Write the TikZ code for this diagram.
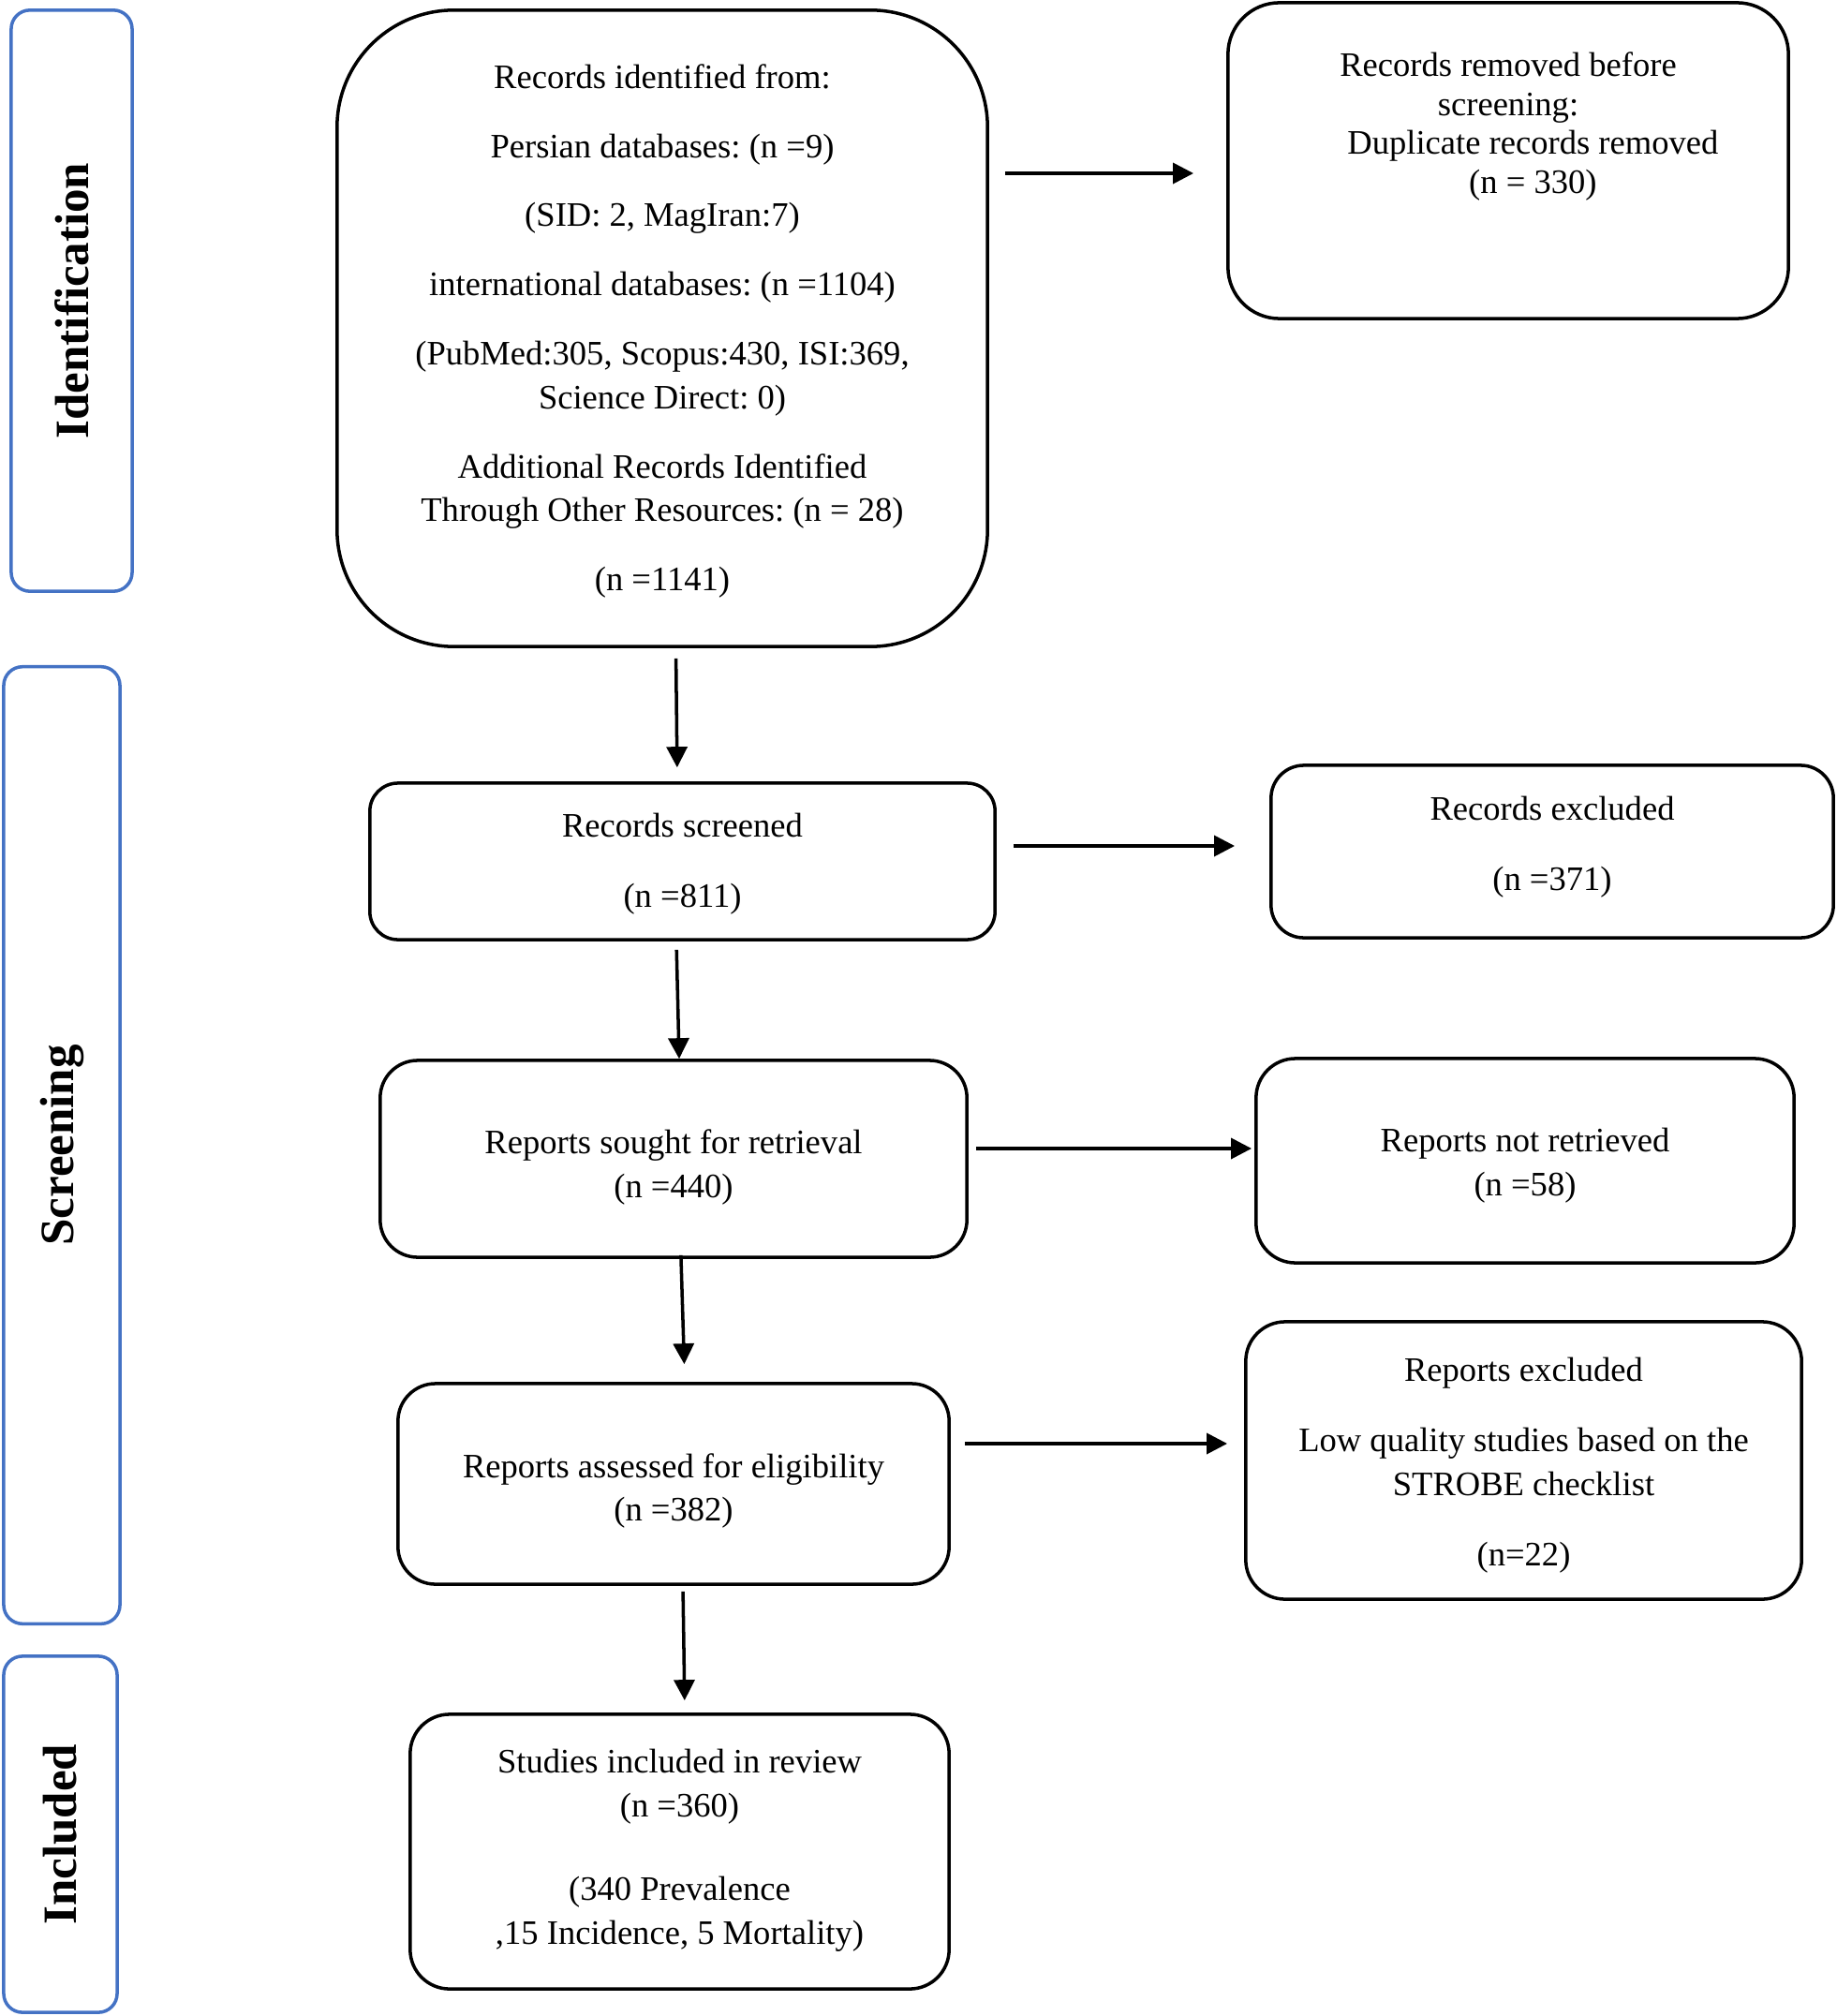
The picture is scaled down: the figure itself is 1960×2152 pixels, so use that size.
\documentclass[tikz,border=0pt]{standalone}
\usepackage{fontspec}
\setmainfont{Liberation Serif}
\usetikzlibrary{arrows.meta,positioning}
\definecolor{phaseblue}{RGB}{68,114,196}
\frenchspacing
\tikzset{
  stage/.style={draw, line width=1pt, rounded corners=0.4cm, inner sep=0pt},
  stagetext/.style={align=center, inner sep=0pt, font=\fontsize{10.4}{13.3}\selectfont},
  phase/.style={draw=phaseblue, line width=1pt, rounded corners=0.2cm, rotate=90, inner sep=0pt,
    font=\fontsize{14.5}{16}\selectfont\bfseries},
  flow/.style={line width=1pt, -{Triangle[length=0.22cm,width=0.22cm]}}
}
\begin{document}
\begin{tikzpicture}[x=0.01cm,y=-0.01cm]
  \useasboundingbox (0,0) rectangle (1960,2152);
  % phases on the left
  \node[phase, minimum width=6.2cm, minimum height=1.29cm] (idphase) at (76.5,321) {Identification};
  \node[phase, minimum width=10.21cm, minimum height=1.24cm] (scphase) at (66,1222.5) {Screening};
  \node[phase, minimum width=3.8cm, minimum height=1.21cm] (inphase) at (64.5,1958) {Included};
  % main column
  \node[stage, minimum width=6.94cm, minimum height=6.79cm, rounded corners=1.25cm] (ident) at (707,350.5) {};
  \node[stagetext] (identtext) at (707,353.5)
    {Records identified from:\\[7.7pt]
     Persian databases: (n =9)\\[7.7pt]
     (SID: 2, MagIran:7)\\[7.7pt]
     international databases: (n =1104)\\[7.7pt]
     (PubMed:305, Scopus:430, ISI:369,\\
     Science Direct: 0)\\[7.7pt]
     Additional Records Identified\\
     Through Other Resources: (n = 28)\\[7.7pt]
     (n =1141)};
  \node[stage, minimum width=6.67cm, minimum height=1.67cm, rounded corners=0.3cm] (screened) at (728.5,919.5) {};
  \node[stagetext] (screenedtext) at (728.5,922.5) {Records screened\\[8pt] (n =811)};
  \node[stage, minimum width=6.26cm, minimum height=2.1cm] (sought) at (719,1237) {};
  \node[stagetext] (soughttext) at (719,1246) {Reports sought for retrieval\\ (n =440)};
  \node[stage, minimum width=5.88cm, minimum height=2.14cm] (assessed) at (719,1584) {};
  \node[stagetext] (assessedtext) at (719,1591.5) {Reports assessed for eligibility\\ (n =382)};
  \node[stage, minimum width=5.75cm, minimum height=2.93cm, rounded corners=0.42cm] (included) at (725.5,1976.5) {};
  \node[stagetext] (includedtext) at (725.5,1975)
    {Studies included in review\\ (n =360)\\[12pt]
     (340 Prevalence\\ ,15 Incidence, 5 Mortality)};
  % right column
  \node[stage, minimum width=5.98cm, minimum height=3.37cm, rounded corners=0.55cm] (removed) at (1610,171.5) {};
  \node[stagetext, font=\fontsize{10.4}{11.9}\selectfont] (removedtext) at (1610,135)
    {Records removed before\\ screening:\\
     \hspace*{15pt}Duplicate records removed\\ \hspace*{15pt}(n = 330)};
  \node[stage, minimum width=6cm, minimum height=1.84cm, rounded corners=0.35cm] (excluded) at (1657,909) {};
  \node[stagetext] (excludedtext) at (1657,904) {Records excluded\\[8pt] (n =371)};
  \node[stage, minimum width=5.74cm, minimum height=2.18cm, rounded corners=0.42cm] (notret) at (1628,1239) {};
  \node[stagetext] (notrettext) at (1628,1244.5) {Reports not retrieved\\ (n =58)};
  \node[stage, minimum width=5.93cm, minimum height=2.96cm, rounded corners=0.42cm] (rex) at (1626.5,1559) {};
  \node[stagetext] (rextext) at (1626.5,1564)
    {Reports excluded\\[8pt]
     Low quality studies based on the\\ STROBE checklist\\[8pt]
     (n=22)};
  % arrows down
  \draw[flow, shorten <=0.11cm, shorten >=0.15cm] ([xshift=-0.07cm]screened.north |- ident.south) -- ([xshift=-0.055cm]screened.north);
  \draw[flow, shorten <=0.09cm] ([xshift=-0.065cm]screened.south) -- ([xshift=-0.035cm]screened.south |- sought.north);
  \draw[flow, shorten <=-0.04cm, shorten >=0.19cm] ([xshift=0.08cm]sought.south) -- ([xshift=0.12cm]sought.south |- assessed.north);
  \draw[flow, shorten <=0.06cm, shorten >=0.13cm] ([xshift=0.035cm]included.north |- assessed.south) -- ([xshift=0.055cm]included.north);
  % arrows right
  \draw[flow, shorten <=0.17cm, shorten >=0.35cm] ([yshift=-0.135cm]ident.east |- removed.west) -- ([yshift=-0.135cm]removed.west);
  \draw[flow, shorten <=0.18cm, shorten >=0.37cm] ([yshift=0.06cm]screened.east |- excluded.west) -- ([yshift=0.06cm]excluded.west);
  \draw[flow, shorten <=0.08cm, shorten >=0.03cm] ([yshift=0.13cm]sought.east |- notret.west) -- ([yshift=0.13cm]notret.west);
  \draw[flow, shorten <=0.15cm, shorten >=0.18cm] ([yshift=0.18cm]assessed.east |- rex.west) -- ([yshift=0.18cm]rex.west);
\end{tikzpicture}
\end{document}
